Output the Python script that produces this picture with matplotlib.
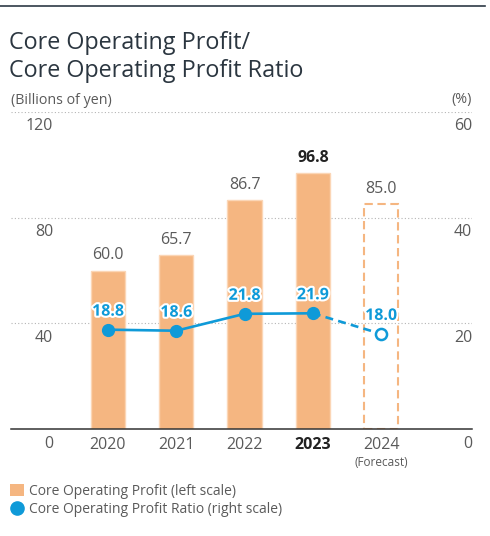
import matplotlib
matplotlib.use("Agg")
import matplotlib.pyplot as plt
from matplotlib.lines import Line2D
from matplotlib.patches import Patch
from matplotlib.transforms import blended_transform_factory, ScaledTranslation
import matplotlib.patheffects as pe

plt.rcParams['font.family'] = ['Open Sans', 'DejaVu Sans']

years = ["2020", "2021", "2022", "2023", "2024"]
profit = [60.0, 65.7, 86.7, 96.8, 85.0]
ratio = [18.8, 18.6, 21.8, 21.9, 18.0]
left_ticks = [0, 40, 80, 120]
right_ticks = [0, 20, 40, 60]
forecast_note = "(Forecast)"
highlight = "2023"

ORANGE = '#F5B681'
ORANGE_EDGE = '#FBD6B6'
BLUE = '#0F9AD8'
GRAY = '#5a5a5a'
DARK = '#2b3640'

W, H = 490, 536
fig = plt.figure(figsize=(W / 100, H / 100), dpi=100)

def fx(px):
    return px / W

def fy(py):
    return 1 - py / H

# top rule
fig.add_artist(Line2D([0, fx(485)], [fy(6), fy(6)], color='#2e3a46', lw=1.2))

fig.text(fx(9), fy(43), "Core Operating Profit/", fontsize=16.8, color=DARK, va='center', ha='left')
fig.text(fx(9), fy(71), "Core Operating Profit Ratio", fontsize=16.8, color=DARK, va='center', ha='left')
fig.text(fx(11), fy(100), "(Billions of yen)", fontsize=10.3, color=GRAY, va='center', ha='left')
fig.text(fx(472), fy(100), "(%)", fontsize=10.3, color=GRAY, va='center', ha='right')

ax = fig.add_axes([fx(11), fy(429), (472 - 11) / W, (429 - 112) / H])
ax.set_ylim(0, 120)
ax.set_xlim(-1.42, 5.33)
ax.patch.set_alpha(0)
for s in ['top', 'left', 'right']:
    ax.spines[s].set_visible(False)
ax.spines['bottom'].set_color('#333333')
ax.spines['bottom'].set_linewidth(1.1)
ax.spines['bottom'].set_zorder(5)

# gridlines
for v in left_ticks[1:]:
    ax.axhline(v, color='#b5b5b5', lw=0.8, linestyle=(0, (1, 2)), zorder=0)

x = list(range(len(years)))
n_act = len(years) - 1
ax.bar(x[:n_act], profit[:n_act], width=0.5, color=ORANGE, edgecolor=ORANGE_EDGE, linewidth=1.0, zorder=2)
ax.bar(x[n_act:], profit[n_act:], width=0.5, facecolor='none', edgecolor=ORANGE,
       linewidth=1.5, linestyle=(0, (4, 2.2)), zorder=2)

for i, v in enumerate(profit):
    bold = years[i] == highlight
    ax.text(i, v + 2.8, f"{v:.1f}", ha='center', va='bottom', fontsize=11.5,
            color='#222222' if bold else GRAY, fontweight='bold' if bold else 'normal', zorder=6)

ax.set_xticks(x)
ax.set_xticklabels(years, fontsize=11.5, color=GRAY)
for lab in ax.get_xticklabels():
    if lab.get_text() == highlight:
        lab.set_fontweight('bold')
        lab.set_color('#222222')
ax.tick_params(axis='x', length=0, pad=6)
ax.set_yticks([])
ax.text(n_act, 0, forecast_note, transform=ax.transData + ScaledTranslation(0, -0.33, fig.dpi_scale_trans),
        ha='center', va='center', fontsize=8.5, color=GRAY)

off = ScaledTranslation(0, -0.145, fig.dpi_scale_trans)
tl = blended_transform_factory(ax.transAxes, ax.transData) + off
for v in left_ticks:
    ax.text((53 - 11) / 461, v, str(v), transform=tl, ha='right', va='center', fontsize=11.5, color=GRAY)

ax2 = ax.twinx()
ax2.set_ylim(0, 60)
ax2.set_yticks([])
for s in ax2.spines.values():
    s.set_visible(False)
tr = blended_transform_factory(ax2.transAxes, ax2.transData) + off
for v in right_ticks:
    ax2.text(1.0, v, str(v), transform=tr, ha='right', va='center', fontsize=11.5, color=GRAY)

ax2.plot(x[:n_act], ratio[:n_act], color=BLUE, lw=1.9, marker='o', markersize=8.5,
         markerfacecolor=BLUE, markeredgecolor=BLUE, zorder=4)
ax2.plot(x[n_act - 1:], ratio[n_act - 1:], color=BLUE, lw=1.9, linestyle=(0, (3, 2)), zorder=3)
ax2.plot(x[n_act:], ratio[n_act:], linestyle='none', marker='o', markersize=8,
         markerfacecolor='white', markeredgecolor=BLUE, markeredgewidth=1.8, zorder=4)

for i, v in enumerate(ratio):
    ax2.text(i, v + 1.9, f"{v:.1f}", ha='center', va='bottom', fontsize=11.5, color=BLUE,
             fontweight='bold', zorder=6,
             path_effects=[pe.withStroke(linewidth=3, foreground='white')])

handles = [Patch(facecolor=ORANGE, edgecolor='none'),
           Line2D([], [], linestyle='none', marker='o', markersize=9.5, color=BLUE)]
labels = ["Core Operating Profit (left scale)", "Core Operating Profit Ratio (right scale)"]
fig.legend(handles, labels, loc='upper left', bbox_to_anchor=(fx(10), fy(484)), frameon=False,
           fontsize=10, labelcolor=GRAY, handlelength=1.0, handleheight=1.0, handletextpad=0.4,
           labelspacing=0.25, borderaxespad=0, borderpad=0)

fig.savefig("out.png", dpi=100)
